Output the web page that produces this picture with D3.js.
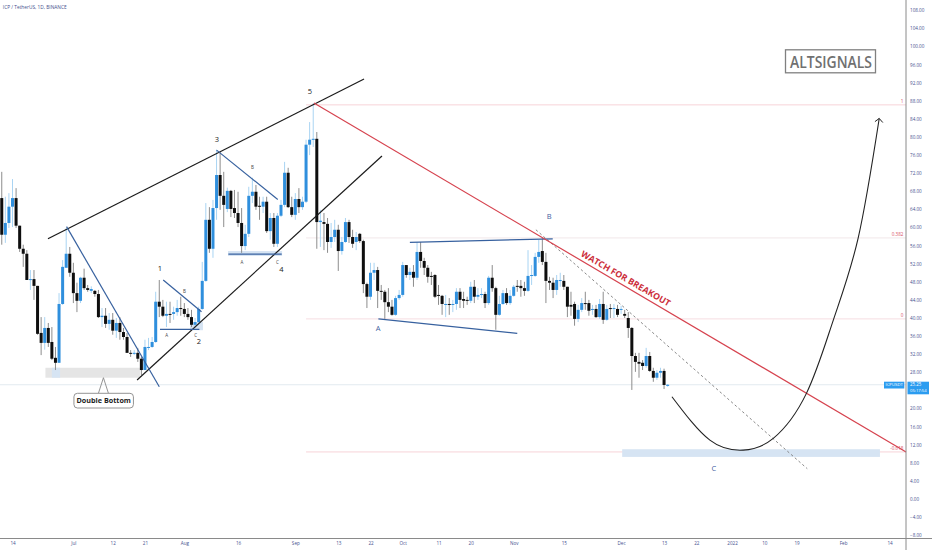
<!DOCTYPE html>
<html><head><meta charset="utf-8">
<script src="https://d3js.org/d3.v7.min.js"></script>
<style>html,body{margin:0;padding:0;background:#fff}svg{display:block}text{font-family:"Open Sans",sans-serif}</style>
</head><body><svg id="c" width="932" height="550"></svg>
<script>
const symbolTitle = "ICP / TetherUS, 1D, BINANCE";
const firstDay = "2021-06-11";
const bodyTops = [66.5,61.0,64.6,66.5,66.5,60.4,55.3,54.2,48.6,48.6,
47.1,36.7,37.8,37.8,34.7,31.2,43.1,51.3,54.2,54.2,
50.0,45.5,48.9,48.9,46.6,46.4,46.0,45.3,40.5,40.5,
39.6,39.6,38.9,38.9,36.9,35.8,32.3,32.3,32.3,31.0,
33.6,33.6,34.7,43.6,43.6,42.5,40.9,40.9,41.3,42.2,
42.2,42.0,40.9,40.2,39.1,42.0,48.2,61.7,61.7,64.3,
71.6,71.6,67.0,68.1,68.1,64.3,63.2,61.0,58.6,67.0,
67.9,67.9,64.8,65.7,65.7,62.1,62.1,62.6,65.0,72.1,
72.1,64.5,66.3,66.3,65.7,78.3,79.4,79.6,79.6,61.5,
61.2,60.8,57.9,59.5,59.5,56.8,61.2,61.2,57.9,57.9,
58.6,57.0,47.5,50.0,50.6,50.6,46.0,45.8,43.5,42.5,
44.4,45.1,51.7,51.7,50.2,50.2,54.6,54.6,52.6,51.1,
49.3,49.5,45.1,44.9,43.1,43.1,43.1,45.8,45.8,44.2,
44.0,46.9,46.9,45.1,45.3,45.3,48.9,48.9,46.6,43.1,
45.5,45.5,44.9,46.9,47.1,47.1,46.6,49.3,49.5,53.5,
54.6,54.8,52.4,48.2,47.8,48.4,48.4,48.2,46.9,42.9,
43.1,41.8,43.3,43.3,43.3,42.0,42.0,43.1,43.1,42.0,
42.2,42.2,42.0,42.0,40.9,40.0,37.8,31.6,30.3,30.1,
31.6,31.6,28.3,27.9,28.3,28.3,25.25];
const bodyBottoms = [58.4,58.4,61.0,64.6,60.4,55.3,54.2,48.4,48.4,47.1,
36.5,34.5,34.5,34.5,31.0,30.1,30.1,43.1,51.1,50.0,
45.5,43.8,43.8,46.6,46.2,46.0,45.3,40.2,40.2,38.7,
38.7,37.2,37.2,36.9,35.8,32.3,32.1,32.1,31.0,28.5,
28.5,33.4,33.6,34.7,42.5,40.5,40.5,40.7,40.9,41.3,
42.0,40.9,40.2,38.5,38.5,39.1,42.0,48.2,55.3,55.3,
64.3,67.0,65.0,64.1,64.1,63.2,61.0,55.9,55.9,58.6,
67.0,64.6,64.6,64.6,59.2,59.2,56.4,56.4,62.6,65.0,
64.5,62.8,62.8,64.5,64.5,65.7,78.3,79.4,61.2,61.2,
60.8,56.8,56.8,57.9,54.8,54.8,56.8,57.9,56.4,56.8,
57.0,47.5,44.7,44.7,50.0,46.0,45.8,43.5,42.5,40.7,
40.7,44.4,45.1,49.5,49.5,48.9,48.9,52.6,51.1,49.1,
49.1,44.7,44.9,43.1,42.9,42.9,42.9,43.1,44.0,43.8,
43.8,43.8,44.7,44.7,45.1,43.3,43.3,46.6,40.7,40.7,
43.1,43.3,43.3,44.9,46.9,46.6,46.0,46.0,49.3,49.3,
53.5,52.4,48.2,47.8,46.2,46.2,48.2,46.9,42.5,42.5,
39.8,39.8,41.8,43.1,41.6,41.8,40.2,40.2,39.6,39.6,
42.0,42.0,40.7,41.8,40.5,37.8,31.6,30.3,29.9,29.4,
29.4,28.3,26.8,26.8,27.9,25.2,25.0];
const highs = [72.3,66.8,67.6,70.7,68.7,60.4,56.2,55.0,50.6,50.6,
47.1,40.2,40.2,38.9,38.0,33.6,45.5,52.8,59.9,55.7,
52.2,47.8,49.1,50.9,47.3,47.0,46.2,46.2,42.2,42.2,
41.1,41.1,40.0,40.2,37.8,36.7,32.9,32.9,33.4,31.4,
35.2,35.6,35.8,45.8,48.4,44.0,43.6,43.6,42.5,44.0,
44.7,43.3,42.2,41.8,40.0,42.5,52.4,65.4,64.5,66.1,
77.2,76.7,72.3,68.8,68.3,68.3,67.9,64.3,60.6,69.0,
71.0,69.4,66.8,66.8,66.8,63.2,63.2,63.2,66.1,74.5,
73.2,66.8,67.6,68.7,66.8,79.4,83.3,87.5,81.1,63.9,
63.2,62.1,61.0,61.7,60.6,57.9,62.1,61.7,59.5,59.0,
58.8,57.3,47.8,52.2,52.2,51.3,47.3,46.2,46.6,44.0,
44.9,46.2,52.4,51.7,51.1,51.7,56.8,56.8,53.3,51.7,
50.2,49.7,47.3,45.1,45.1,44.4,44.0,46.6,46.6,45.8,
44.7,48.0,48.4,46.6,46.6,45.8,49.3,51.7,46.9,44.9,
46.2,46.6,46.2,47.3,48.4,48.4,48.0,55.0,51.7,54.4,
57.3,57.7,54.4,49.1,48.9,49.5,50.0,49.5,46.9,45.8,
43.6,42.9,44.4,45.8,44.0,42.9,42.9,44.2,45.8,42.9,
43.1,43.1,42.9,42.7,41.8,41.3,38.0,32.3,32.3,30.7,
33.4,32.5,29.0,28.5,29.0,28.8,25.4];
const lows = [56.2,56.6,59.9,60.1,59.9,54.6,51.3,48.4,46.2,44.0,
36.3,31.8,33.0,33.6,30.7,28.5,30.1,42.9,51.1,49.1,
43.3,41.3,43.3,46.2,45.8,45.5,44.7,40.0,38.0,37.8,
37.4,36.3,35.6,35.2,35.2,32.3,31.4,31.8,30.3,27.4,
28.5,32.9,33.4,34.5,40.2,40.2,38.0,38.9,39.6,40.5,
40.5,40.2,39.6,38.0,38.0,38.9,41.8,48.0,54.4,53.3,
61.7,63.9,60.1,63.4,62.3,62.1,60.1,54.4,55.0,57.9,
65.4,63.9,61.7,63.2,58.8,57.3,55.7,55.7,62.3,64.5,
64.3,62.3,61.7,63.2,63.9,65.4,76.0,77.8,55.3,55.7,
55.0,54.4,55.5,56.8,50.4,54.0,56.6,56.6,55.5,55.0,
56.6,45.5,42.2,44.0,48.4,42.2,44.0,39.8,41.3,40.5,
40.5,44.0,44.7,48.9,48.4,46.9,48.4,51.1,49.5,47.8,
47.3,44.4,42.9,40.7,40.2,40.7,41.3,41.8,42.2,42.2,
42.9,43.3,43.3,44.0,44.4,42.2,42.9,45.8,37.4,40.5,
42.9,42.9,42.9,44.7,45.8,44.7,44.9,45.8,47.3,49.1,
52.2,51.7,43.3,46.2,44.4,45.1,46.9,46.2,40.2,40.5,
38.3,39.1,41.3,41.8,40.5,40.7,40.0,39.8,38.7,39.4,
40.0,40.0,40.2,40.9,40.0,35.6,24.1,28.1,26.8,28.5,
29.0,28.1,25.9,26.3,26.8,24.3,24.8];
const directions = ["duuuddddud","dduddduuud","ddudduddud","ududdddudd","uuuuddud"+"uu","dddduuuudu","uddudddd"+"uu","uddududuuu","dduduuuudu","dduuduuddu","ddduuddddd","uuudududdd","dddduduudd","duduududdu","uduuddduuu","udddduuddd","duuddududu","dududddddd","uddu"+"udu"].join("");

const priceTicks = [108,104,100,96,92,88,84,80,76,72,68,64,60,56,52,48,44,40,36,32,28,20,16,12,8,4,0,-4,-8];
const dateTicks = ["2021-06-14","2021-07-01","2021-07-12","2021-07-21","2021-08-01","2021-08-16","2021-09-01","2021-09-13","2021-09-22","2021-10-01","2021-10-11","2021-10-20","2021-11-01","2021-11-15","2021-12-01","2021-12-13","2021-12-22","2022-01-01","2022-01-10","2022-01-19","2022-02-01","2022-02-14"];
const dateLabels = ["14","Jul","12","21","Aug","16","Sep","13","22","Oct","11","20","Nov","15","Dec","13","22","2022","10","19","Feb","14"];

// drawings, as [days after 14 Jun 2021, price]
const channelTop = [[9.9,57.5],[98.2,92.8]];
const channelBottom = [[34.8,26.3],[103.2,75.8]];
const redTrend = [[84.2,87.5],[249.6,10.4]];
const dashedTrend = [[146.2,59.5],[222,6.7]];
const blueLines = [[[15.1,60.2],[41,24.8]],[[42.1,48.4],[52.8,41.4]],[[41.2,37.5],[52.2,37.5]],[[57,77.1],[74.1,66.2]],[[60.3,54.1],[75.2,54.1]],[[102.2,39.8],[141,36.6]],[[111,56.7],[150.9,57.5]]];
const fibLevels = [87.1,57.7,39.8,10.4];
const fibLabels = ["1","0.382","0","-0.618"];
const projection = [[184.2,22.6],[194.8,13.0],[204.1,10.8],[212.5,13.4],[221.8,23.4],[229.3,39.6],[236.2,57.6],[242.1,84.1]];
const arrowHead = [[240.9,83.4],[242.1,84.1],[243.1,83.2]];
const greyZones = [[9.2,35.6,29,26.8]];
const blueZones = [[170.3,242.3,11,9.3],[49.6,53.2,39.1,37.3],[60.2,75.3,54.8,53.7],[11,13.3,29,26.8]];
const blackLabels = [["1",41.2,50.8],["2",52.1,34.7],["3",57.1,79.3],["4",75.1,50.6],["5",83.1,89.9]];
const smallLabels = [["A",43.1,36.1],["B",48,45.8],["C",51.2,36.1],["A",64.1,52.3],["B",67,73.1],["C",74,52.2]];
const waveLabels = [["A",102.1,37.6],["B",149.9,62.3],["C",195.9,6.6]];
const lastPrice = 25.25;

const PX_DAY = 3.58, X0 = 12.5;
const base = Date.UTC(2021,5,14);
const x = d3.scaleUtc().domain([new Date(base), new Date(base+245*864e5)]).range([X0, X0+245*PX_DAY]);
const y = d3.scaleLinear().domain([108,-8]).range([10.3,535.2]);
const dx = d => x(new Date(base+d*864e5));
const svg = d3.select("#c");
const line = d3.line().x(d=>dx(d[0])).y(d=>y(d[1]));
const PLOT_R = 906, PLOT_B = 538.5;
const INK = "#454f8e", SMALL = 4.6;

// last price line
svg.append("line").attr("x1",0).attr("x2",PLOT_R).attr("y1",y(lastPrice)).attr("y2",y(lastPrice)).attr("stroke","#e2eaf0").attr("stroke-width",1);
// fib lines
const fibColors = ["#f7d3d8","#f1e7e9","#f6dde1","#f7d3d8"];
fibLevels.forEach((v,i)=>{
  svg.append("line").attr("x1",dx(82)).attr("x2",PLOT_R).attr("y1",y(v)).attr("y2",y(v)).attr("stroke",fibColors[i]).attr("stroke-width",1);
  svg.append("text").attr("x",PLOT_R-2.5).attr("y",y(v)-1.6).attr("text-anchor","end").attr("font-size",SMALL).attr("fill","#d8505f").text(fibLabels[i]);
});
// zones
const zone=(z,c)=>svg.append("rect").attr("x",dx(z[0])).attr("width",dx(z[1])-dx(z[0])).attr("y",y(z[2])).attr("height",y(z[3])-y(z[2])).attr("fill",c);
greyZones.forEach(z=>zone(z,"#e5e5e5"));
blueZones.forEach((z,i)=>zone(z,"#d6e4f3"));

// candles
const start = Date.parse(firstDay+"T00:00:00Z");
const candles = bodyTops.map((t,i)=>{
  const up = directions[i]==="u", b = bodyBottoms[i];
  return {t:new Date(start+i*864e5),o:up?b:t,c:up?t:b,h:highs[i],l:lows[i],up};
});
const g = svg.append("g");
const sel = g.selectAll("g").data(candles).join("g");
sel.append("line").attr("x1",d=>x(d.t)).attr("x2",d=>x(d.t)).attr("y1",d=>y(d.h)).attr("y2",d=>y(d.l))
  .attr("stroke",d=>d.up?"#a9d4f3":"#8d8d8d").attr("stroke-width",1);
sel.append("rect").attr("x",d=>x(d.t)-1.5).attr("width",3)
  .attr("y",d=>y(Math.max(d.o,d.c))).attr("height",d=>Math.max(1,Math.abs(y(d.o)-y(d.c))))
  .attr("fill",d=>d.up?"#2f8fdd":"#0e0e0e");

// drawings
const draw=(pts,c,w,dash)=>svg.append("path").attr("d",line(pts)).attr("fill","none").attr("stroke",c).attr("stroke-width",w).attr("stroke-dasharray",dash||null);
draw(channelTop,"#1a1a1a",1.2);
draw(channelBottom,"#1a1a1a",1.2);
draw(dashedTrend,"#7a7a7a",0.9,"2.5 2.5");
blueLines.forEach(l=>draw(l,"#37619f",1.2));
draw(redTrend,"#d6434f",1.2);
svg.append("path").attr("d",d3.line().x(d=>dx(d[0])).y(d=>y(d[1])).curve(d3.curveNatural)(projection)).attr("fill","none").attr("stroke","#222").attr("stroke-width",1.1);
draw(arrowHead,"#222",1);

// labels
const lab=(arr,s,c)=>arr.forEach(l=>svg.append("text").attr("x",dx(l[1])).attr("y",y(l[2])).attr("text-anchor","middle").attr("dominant-baseline","middle").attr("font-size",s).attr("fill",c).text(l[0]));
lab(blackLabels,7.5,"#222");
lab(smallLabels,4.5,"#444");
lab(waveLabels,7.5,"#3f5f9f");

svg.append("text").attr("transform",`translate(${dx(171.2)},${y(48.6)}) rotate(30)`).attr("text-anchor","middle").attr("dominant-baseline","middle")
  .attr("font-size",8.8).attr("font-weight","bold").attr("fill","#cc2e3a").text("WATCH FOR BREAKOUT");

// Double bottom callout
const cx = dx(25.4), cb = y(26.8);
svg.append("path").attr("d",`M${cx-5},393.3 L${cx},${cb} L${cx+5},393.3`).attr("fill","none").attr("stroke","#888").attr("stroke-width",0.9);
svg.append("rect").attr("x",cx-29.5).attr("y",393.3).attr("width",59.5).attr("height",14.7).attr("rx",3.5).attr("fill","#fff").attr("stroke","#888").attr("stroke-width",0.9);
svg.append("text").attr("x",cx+0.3).attr("y",400.9).attr("text-anchor","middle").attr("dominant-baseline","middle").attr("font-size",7.2).attr("font-weight","bold").attr("fill","#222").text("Double Bottom");

// ALTSIGNALS
svg.append("rect").attr("x",785.5).attr("y",49.8).attr("width",90).attr("height",23).attr("fill","#fff").attr("stroke","#808080").attr("stroke-width",1.3);
svg.append("text").attr("x",790).attr("y",68).attr("textLength",82).attr("lengthAdjust","spacingAndGlyphs").attr("font-size",15.5).attr("font-weight",600).attr("fill","#707070").text("ALTSIGNALS");

// Title
svg.append("text").attr("x",2.8).attr("y",8.5).attr("font-size",4.8).attr("fill",INK).text(symbolTitle);

// axes
svg.append("rect").attr("x",PLOT_R+0.5).attr("y",0).attr("width",26).attr("height",550).attr("fill","#fff");
svg.append("rect").attr("x",0).attr("y",PLOT_B).attr("width",932).attr("height",12).attr("fill","#fff");
const ay = d3.axisRight(y).tickValues(priceTicks).tickSize(0).tickPadding(4).tickFormat(d=>d<0?"\u2212"+Math.abs(d).toFixed(2):d.toFixed(2));
const gy = svg.append("g").attr("transform",`translate(${PLOT_R},0)`).call(ay);
gy.select(".domain").remove();
gy.selectAll("text").attr("font-size",SMALL).attr("fill",INK).attr("style","font-family:'Open Sans'");
const ax = d3.axisBottom(x).tickValues(dateTicks.map(d=>new Date(d+"T00:00:00Z"))).tickSize(0).tickPadding(3.5).tickFormat((d,i)=>dateLabels[i]);
const gx = svg.append("g").attr("transform",`translate(0,${PLOT_B})`).call(ax);
gx.select(".domain").remove();
gx.selectAll("text").attr("font-size",SMALL).attr("fill",INK).attr("style","font-family:'Open Sans'");
svg.append("line").attr("x1",PLOT_R).attr("x2",PLOT_R).attr("y1",0).attr("y2",550).attr("stroke","#8a8a8a").attr("stroke-width",1);
svg.append("line").attr("x1",0).attr("x2",932).attr("y1",PLOT_B).attr("y2",PLOT_B).attr("stroke","#8a8a8a").attr("stroke-width",1);

// price tags
svg.append("rect").attr("x",884).attr("y",381.7).attr("width",20.3).attr("height",6.8).attr("fill","#2b9cf0");
svg.append("text").attr("x",894.2).attr("y",385.2).attr("text-anchor","middle").attr("dominant-baseline","middle").attr("font-size",4.3).attr("fill","#fff").text("ICPUSDT");
svg.append("rect").attr("x",907.5).attr("y",381.7).attr("width",21.5).attr("height",12.6).attr("fill","#2b9cf0");
svg.append("text").attr("x",910).attr("y",385).attr("dominant-baseline","middle").attr("font-size",4.4).attr("fill","#fff").text("25.25");
svg.append("text").attr("x",910).attr("y",390.8).attr("dominant-baseline","middle").attr("font-size",4.2).attr("fill","#fff").text("05:17:54");
</script></body></html>
